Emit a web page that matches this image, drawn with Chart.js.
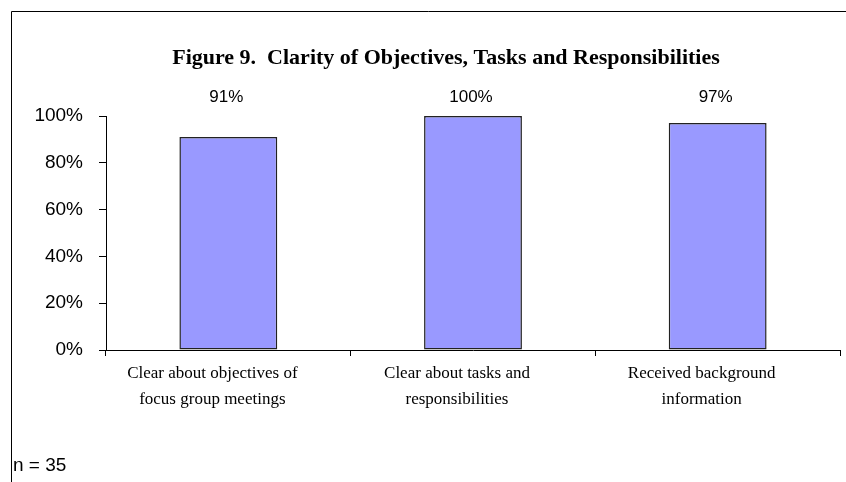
<!DOCTYPE html>
<html>
<head>
<meta charset="utf-8">
<script src="https://cdn.jsdelivr.net/npm/chart.js@4.4.0/dist/chart.umd.min.js"></script>
<style>
html,body{margin:0;padding:0;background:#fff;}
#wrap{width:846px;height:482px;position:relative;}
</style>
</head>
<body>
<div id="wrap"><canvas id="c" width="846" height="482"></canvas></div>
<script>
const categories = [
  ["Clear about objectives of", "focus group meetings"],
  ["Clear about tasks and", "responsibilities"],
  ["Received background", "information"]
];
const values = [91, 100, 97];
const valueLabels = ["91%", "100%", "97%"];
const yTicks = [0, 20, 40, 60, 80, 100];
const titleText = "Figure 9.  Clarity of Objectives, Tasks and Responsibilities";
const noteText = "n = 35";

const frame = {
  id: 'frame',
  beforeDraw(chart) {
    const ctx = chart.ctx;
    ctx.save();
    ctx.strokeStyle = '#000';
    ctx.lineWidth = 1;
    ctx.beginPath();
    ctx.moveTo(11.5, chart.height);
    ctx.lineTo(11.5, 11.5);
    ctx.lineTo(chart.width, 11.5);
    ctx.stroke();
    ctx.restore();
  },
  afterDraw(chart) {
    const ctx = chart.ctx;
    ctx.save();
    ctx.fillStyle = '#000';
    ctx.textBaseline = 'middle';
    ctx.font = 'bold 22px "Liberation Serif", "Times New Roman", serif';
    ctx.textAlign = 'center';
    ctx.fillText(titleText, 446, 58);
    ctx.font = '19px "Liberation Sans", Arial, sans-serif';
    ctx.textAlign = 'left';
    ctx.fillText(noteText, 13, 466);
    ctx.restore();
  }
};

const barLabels = {
  id: 'barLabels',
  afterDatasetsDraw(chart) {
    const ctx = chart.ctx;
    const meta = chart.getDatasetMeta(0);
    ctx.save();
    ctx.fillStyle = '#000';
    ctx.font = '17px "Liberation Sans", Arial, sans-serif';
    ctx.textAlign = 'center';
    ctx.textBaseline = 'middle';
    meta.data.forEach((el, i) => {
      ctx.fillText(valueLabels[i], el.x - 2, chart.chartArea.top - 19);
    });
    ctx.restore();
  }
};

new Chart(document.getElementById('c'), {
  type: 'bar',
  data: {
    labels: categories,
    datasets: [{
      data: values,
      backgroundColor: '#9999FF',
      borderColor: '#222',
      borderWidth: 1.5,
      borderSkipped: false,
      categoryPercentage: 1,
      barPercentage: 0.4
    }]
  },
  options: {
    responsive: false,
    animation: false,
    devicePixelRatio: 1,
    layout: { padding: { left: 0, right: 6, top: 116, bottom: 0 } },
    plugins: {
      legend: { display: false },
      tooltip: { enabled: false },
      title: { display: false }
    },
    scales: {
      x: {
        grid: { display: true, drawOnChartArea: false, drawTicks: true, tickLength: 6, color: '#000', offset: true },
        border: { display: true, color: '#000', width: 1 },
        ticks: {
          color: '#000',
          padding: 5,
          labelOffset: -16,
          maxRotation: 0,
          autoSkip: false,
          font: { family: '"Liberation Serif", "Times New Roman", serif', size: 17, lineHeight: 1.5 }
        },
        afterFit(s) { s.height = 132; }
      },
      y: {
        min: 0, max: 100,
        afterBuildTicks(s) { s.ticks = yTicks.map(v => ({ value: v })); },
        grid: { display: true, drawOnChartArea: false, drawTicks: true, tickLength: 7, color: '#000' },
        border: { display: true, color: '#000', width: 1 },
        ticks: {
          color: '#000',
          padding: 16,
          font: { family: '"Liberation Sans", Arial, sans-serif', size: 19 },
          callback: v => v + '%'
        },
        afterFit(s) { s.width = 106; }
      }
    }
  },
  plugins: [frame, barLabels]
});
</script>
</body>
</html>
